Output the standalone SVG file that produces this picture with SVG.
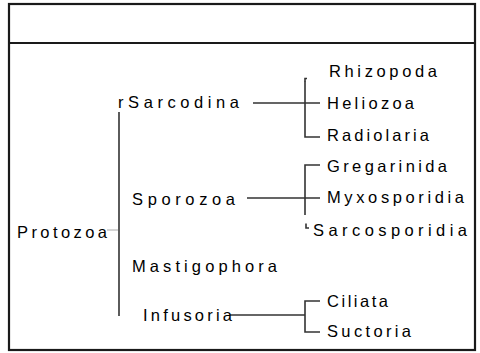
<svg xmlns="http://www.w3.org/2000/svg" width="480" height="353" viewBox="0 0 480 353">
<style>
.frame{fill:none;stroke:#1a1a1a;stroke-width:2.2}
.ln{fill:none;stroke:#333;stroke-width:1.6}
.lt{fill:none;stroke:#aaa;stroke-width:1}
text{font-family:"Liberation Sans",Arial,sans-serif;font-size:16.5px;fill:#000}
</style>
<rect width="480" height="353" fill="#fff"/>
<g id="frame">
<rect class="frame" x="9" y="4" width="466" height="346"/>
<line class="frame" x1="9" y1="43" x2="475" y2="43"/>
</g>
<g id="connectors">
<line class="ln" x1="119" y1="112" x2="119" y2="316"/>
<line class="lt" x1="107" y1="230" x2="118" y2="230"/>
<path class="ln" d="M253 103H320M305 81V137H320"/>
<path class="ln" d="M305 81.5V78.5H307" stroke-width="1"/>
<path class="ln" d="M247 198H320M320 165H305V215"/>
<path class="ln" d="M306 223.5V228H309" stroke-width="1"/>
<path class="ln" d="M230 315H290" stroke="#000" stroke-width="1.2"/>
<path class="ln" d="M290 315H305M320 301H305V332H320"/>
</g>
<g id="protozoa"><text x="17" y="237.5" textLength="90" lengthAdjust="spacing">Protozoa</text></g>
<g id="sarcodina"><text x="118" y="107.5" textLength="121" lengthAdjust="spacing">rSarcodina</text></g>
<g id="sporozoa"><text x="132" y="205" textLength="103" lengthAdjust="spacing">Sporozoa</text></g>
<g id="mastigophora"><text x="132" y="272" textLength="145" lengthAdjust="spacing">Mastigophora</text></g>
<g id="infusoria"><text x="143" y="321" textLength="89" lengthAdjust="spacing">Infusoria</text></g>
<g id="rhizopoda"><text x="329" y="77" textLength="108" lengthAdjust="spacing">Rhizopoda</text></g>
<g id="heliozoa"><text x="327" y="109" textLength="87" lengthAdjust="spacing">Heliozoa</text></g>
<g id="radiolaria"><text x="327" y="141" textLength="102" lengthAdjust="spacing">Radiolaria</text></g>
<g id="gregarinida"><text x="327" y="172" textLength="120" lengthAdjust="spacing">Gregarinida</text></g>
<g id="myxosporidia"><text x="327" y="203" textLength="137" lengthAdjust="spacing">Myxosporidia</text></g>
<g id="sarcosporidia"><text x="313" y="236" textLength="154" lengthAdjust="spacing">Sarcosporidia</text></g>
<g id="ciliata"><text x="327" y="307" textLength="61" lengthAdjust="spacing">Ciliata</text></g>
<g id="suctoria"><text x="327" y="337" textLength="84" lengthAdjust="spacing">Suctoria</text></g>
</svg>
